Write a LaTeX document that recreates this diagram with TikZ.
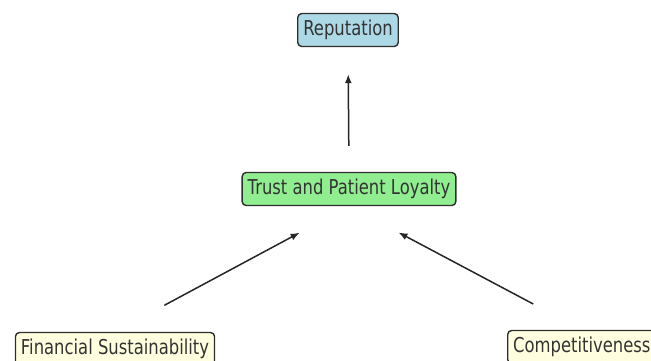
\documentclass[tikz,border=0pt]{standalone}
\usepackage{fontspec}
\setmainfont[FakeStretch=0.8]{DejaVu Sans}
\usetikzlibrary{arrows.meta}
\definecolor{boxline}{HTML}{2E2E2E}
\definecolor{lblue}{HTML}{ADD8E6}
\definecolor{lgreen}{HTML}{90EE90}
\definecolor{lyellow}{HTML}{FFFFE0}
\begin{document}
\begin{tikzpicture}[x=1pt,y=-1pt,
  factor/.style={draw=boxline,line width=1.4pt,rounded corners=4pt,
    inner xsep=5.5pt,minimum height=33pt,text height=15pt,text depth=4.5pt,
    font=\fontsize{20.5}{24}\selectfont,text=black!80},
  link/.style={draw=black!85,line width=1.5pt,-{Latex[length=9pt,width=7pt]}}]
\useasboundingbox (0,0) rectangle (651,360);
\node[factor,fill=lblue]   (rep)   at (348,30)  {Reputation};
\node[factor,fill=lgreen]  (trust) at (349,189) {Trust and Patient Loyalty};
\node[factor,fill=lyellow] (fin)   at (115,349) {Financial Sustainability};
\node[factor,fill=lyellow,anchor=west] (comp) at (507,347) {Competitiveness};
\draw[link,shorten <=26pt,shorten >=27pt] (trust.north) -- (rep.south);
\draw[link,shorten <=56pt,shorten >=56pt] (fin.north) -- (trust.south);
\draw[link,shorten <=55pt,shorten >=56pt] (comp.north) -- (trust.south);
\end{tikzpicture}
\end{document}
